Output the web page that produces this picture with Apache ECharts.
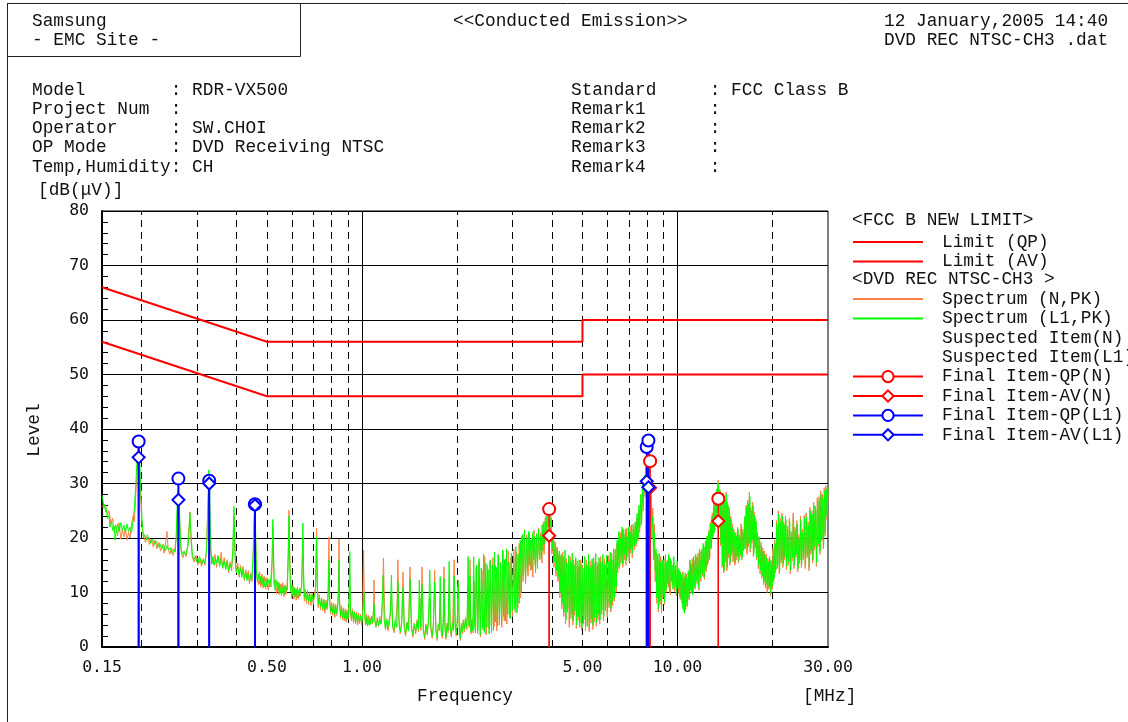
<!DOCTYPE html>
<html><head><meta charset="utf-8">
<script src="https://cdn.jsdelivr.net/npm/echarts@6.0.0/dist/echarts.min.js"></script>
<style>html,body{margin:0;padding:0;background:#fff}#c{width:1128px;height:722px}</style>
</head><body><div id="c"></div>
<script>
// ---------------- DATA ----------------
const limitQP = [[0.15,66],[0.5,56],[5,56],[5,60],[30,60]];
const limitAV = [[0.15,56],[0.5,46],[5,46],[5,50],[30,50]];

const finalQP_N  = [[3.92,25.3],[8.19,34.1],[13.47,27.2]];
const finalAV_N  = [[3.92,20.4],[8.19,29.2],[13.47,23.1]];
const finalQP_L1 = [[0.196,37.7],[0.262,30.9],[0.328,30.5],[0.458,26.2],[7.99,36.7],[8.09,37.9]];
const finalAV_L1 = [[0.196,34.8],[0.262,27.0],[0.328,30.0],[0.458,26.0],[7.99,30.4],[8.09,29.3]];

const gridDashed = [0.2,0.3,0.4,0.5,0.6,0.7,0.8,0.9,2,3,4,5,6,7,8,9,20];
const gridSolid = [1,10];
const xTickValues = [0.15,0.5,1,5,10,30];
const xTickLabels = ['0.15','0.50','1.00','5.00','10.00','30.00'];

const spectrumL1 = [
[0.150,27.8],[0.151,27.0],[0.152,25.6],[0.153,26.2],[0.154,24.8],[0.155,25.4],[0.156,23.5],[0.158,24.2],[0.159,22.0],[0.161,23.0],[0.162,21.4],[0.164,22.2],[0.165,19.6],[0.167,21.8],[0.168,22.6],[0.170,21.2],[0.172,22.8],[0.174,21.4],[0.176,22.4],[0.178,21.0],[0.180,22.6],[0.182,21.2],[0.184,22.0],[0.186,21.0],[0.188,23.0],[0.190,25.5],[0.192,30.0],[0.194,35.0],[0.196,38.0],[0.197,36.0],[0.199,29.0],[0.201,23.0],[0.203,20.0],[0.205,20.6],[0.208,19.6],[0.211,20.2],[0.214,19.0],[0.217,19.8],[0.220,18.8],[0.223,19.4],[0.226,18.4],[0.229,19.0],[0.232,18.0],[0.235,18.8],[0.238,17.6],[0.241,18.6],[0.244,17.8],[0.247,18.2],[0.250,17.2],[0.253,18.0],[0.256,17.4],[0.258,21.0],[0.260,27.0],[0.262,31.0],[0.263,28.5],[0.265,22.0],[0.267,18.0],[0.270,17.0],[0.273,17.6],[0.276,16.8],[0.279,17.8],[0.282,19.0],[0.284,23.0],[0.285,24.6],[0.287,21.0],[0.290,17.0],[0.293,16.0],[0.296,16.6],[0.299,15.6],[0.302,16.4],[0.305,15.4],[0.308,16.2],[0.311,15.2],[0.314,16.0],[0.317,15.4],[0.320,16.6],[0.322,18.0],[0.325,26.0],[0.327,32.5],[0.329,29.0],[0.331,20.0],[0.334,15.2],[0.337,16.6],[0.340,15.0],[0.343,16.4],[0.346,15.4],[0.350,16.8],[0.354,14.8],[0.358,16.2],[0.362,14.6],[0.366,15.8],[0.370,14.2],[0.374,15.6],[0.378,14.0],[0.382,15.2],[0.386,14.4],[0.390,18.0],[0.392,24.0],[0.393,25.8],[0.395,20.0],[0.397,15.0],[0.400,13.6],[0.404,14.8],[0.408,13.2],[0.412,14.6],[0.416,12.8],[0.420,14.2],[0.424,12.6],[0.428,13.8],[0.432,12.2],[0.436,13.4],[0.440,12.0],[0.444,13.2],[0.448,12.4],[0.452,17.0],[0.455,23.0],[0.458,27.0],[0.460,22.0],[0.463,14.0],[0.466,12.0],[0.470,13.4],[0.474,11.6],[0.478,13.0],[0.482,11.4],[0.486,12.8],[0.490,11.0],[0.495,12.6],[0.500,11.2],[0.505,12.4],[0.510,11.0],[0.515,12.8],[0.519,16.0],[0.521,21.5],[0.522,23.4],[0.524,18.0],[0.527,12.0],[0.531,10.4],[0.536,12.2],[0.541,10.2],[0.546,11.8],[0.551,9.8],[0.556,11.4],[0.561,10.0],[0.566,11.2],[0.571,9.6],[0.576,11.0],[0.580,10.4],[0.584,16.0],[0.587,24.0],[0.590,16.0],[0.594,10.2],[0.599,11.4],[0.604,9.4],[0.609,11.0],[0.614,9.2],[0.619,10.6],[0.624,9.0],[0.629,10.4],[0.634,9.2],[0.639,10.6],[0.644,11.0],[0.648,19.0],[0.650,22.7],[0.653,14.0],[0.657,9.0],[0.662,10.2],[0.667,8.6],[0.672,10.0],[0.677,8.4],[0.683,9.8],[0.689,8.2],[0.695,9.6],[0.701,8.4],[0.707,9.4],[0.713,10.0],[0.718,20.2],[0.722,11.0],[0.727,7.8],[0.733,9.2],[0.739,7.4],[0.745,8.8],[0.751,7.0],[0.757,8.6],[0.763,6.8],[0.769,8.2],[0.775,7.2],[0.781,9.0],[0.786,16.0],[0.790,8.0],[0.796,6.4],[0.802,7.8],[0.808,6.2],[0.814,7.6],[0.820,6.0],[0.826,7.4],[0.832,6.2],[0.838,7.6],[0.844,10.0],[0.846,16.0],[0.849,8.0],[0.855,5.8],[0.861,7.2],[0.867,5.4],[0.873,6.8],[0.879,5.2],[0.885,6.6],[0.891,5.0],[0.897,6.4],[0.903,5.4],[0.909,7.0],[0.915,17.5],[0.920,7.0],[0.926,5.2],[0.933,6.6],[0.940,4.8],[0.947,6.4],[0.954,4.6],[0.961,6.0],[0.968,4.4],[0.975,5.8],[0.982,4.6],[0.990,5.6],[0.998,4.4],[1.006,5.8],[1.015,10.0],[1.022,5.4],[1.030,4.2],[1.038,5.6],[1.046,4.0],[1.055,5.4],[1.064,4.2],[1.073,5.6],[1.082,4.4],[1.092,8.0],[1.100,4.6],[1.110,3.8],[1.120,5.2],[1.130,4.0],[1.140,5.0],[1.150,4.2],[1.160,8.0],[1.168,13.2],[1.176,5.0],[1.186,3.4],[1.196,5.0],[1.206,3.2],[1.218,4.8],[1.230,6.0],[1.240,13.2],
[1.250,4.0],[1.262,3.0],[1.275,5.0],[1.290,3.6],[1.300,12.0],[1.312,4.0],[1.325,2.8],[1.338,4.6],[1.350,11.0],[1.362,3.4],[1.375,2.4],[1.390,4.4],[1.405,3.0],[1.420,12.5],[1.435,3.6],[1.450,2.2],[1.465,4.2],[1.480,2.8],[1.495,4.6],[1.510,3.2],[1.520,12.3],[1.535,3.6],[1.550,11.5],[1.565,3.0],[1.580,1.8],[1.595,4.0],[1.610,2.6],[1.625,4.6],[1.640,14.1],[1.655,3.4],[1.670,2.0],[1.685,4.2],[1.700,12.0],[1.715,3.0],[1.730,1.6],[1.745,3.8],[1.760,4.6],[1.770,12.9],[1.782,3.0],[1.795,2.0],[1.808,4.4],[1.820,12.6],[1.833,3.2],[1.846,1.8],[1.860,4.0],[1.875,3.0],[1.890,15.7],[1.905,3.6],[1.920,2.2],[1.935,4.4],[1.950,3.0],[1.960,13.0],[1.975,3.6],[1.990,2.4],[2.005,4.6],[2.020,12.0],[2.035,3.2],[2.050,1.6],[2.065,4.0],[2.080,2.8],[2.095,4.6],[2.110,3.2],[2.125,5.0],[2.140,3.6],[2.155,5.4],[2.170,16.6],[2.185,4.0],[2.200,13.0],[2.215,2.8],[2.230,4.8],[2.245,3.0],[2.260,16.6],[2.275,4.2],[2.290,2.6],
[2.310,15.0],[2.330,3.0],[2.350,16.2],[2.370,2.2],[2.390,14.5],[2.410,3.4],[2.430,17.0],[2.450,2.6],[2.470,15.4],[2.490,3.6],[2.510,14.2],[2.530,2.4],[2.550,16.0],[2.570,4.0],[2.590,15.0],[2.610,3.0],[2.630,17.4],[2.650,4.6],[2.670,14.6],[2.690,3.8],[2.710,16.8],[2.730,5.0],[2.750,15.4],[2.770,4.2],[2.790,17.8],[2.810,5.6],[2.830,16.0],[2.850,4.8],[2.875,18.0],[2.900,6.0],[2.925,15.6],[2.950,5.2],[2.975,17.2],[3.000,6.6],[3.025,16.4],[3.050,7.0],[3.075,18.4],[3.100,6.2],[3.125,17.0],[3.150,8.0],[3.175,19.6],[3.200,10.0],[3.225,20.6],[3.250,13.0],[3.275,21.5],[3.300,12.4],[3.325,20.0],[3.350,14.0],[3.375,21.2],[3.400,15.0],[3.425,19.6],[3.450,14.2],[3.475,21.0],[3.500,16.0],[3.525,20.2],[3.550,13.6],[3.575,20.8],[3.600,15.4],[3.625,21.6],[3.650,17.0],[3.675,20.4],[3.700,16.2],[3.725,22.4],[3.750,17.6],[3.775,23.0],[3.800,19.0],[3.830,24.0],[3.860,21.0],[3.890,24.5],[3.920,25.6],[3.950,22.0],[3.980,23.6],[4.010,18.0],[4.040,20.6],[4.070,15.6],[4.100,19.0],[4.130,14.0],[4.160,18.0],[4.190,12.8],[4.220,17.6],[4.250,10.0],[4.280,17.0],[4.310,8.0],[4.340,16.6],[4.370,6.4],[4.400,17.8],[4.430,5.0],[4.460,15.4],[4.490,7.2],[4.520,16.8],[4.550,4.4],[4.580,15.8],[4.610,6.0],[4.640,17.2],[4.670,4.8],[4.700,15.0],[4.730,6.6],[4.760,16.4],[4.790,4.0],[4.820,14.8],[4.850,5.6],[4.880,16.0],[4.910,4.4],[4.945,15.2],[4.980,3.6],[5.015,14.4],[5.050,5.0],[5.085,16.6],[5.120,3.8],[5.155,15.0],[5.190,4.6],[5.225,17.0],[5.260,3.6],[5.295,14.6],[5.330,5.2],[5.365,16.2],[5.400,4.0],[5.435,15.4],[5.470,5.4],[5.505,17.2],[5.540,4.4],[5.575,14.8],[5.610,6.0],[5.645,16.4],[5.680,5.0],[5.720,15.6],[5.760,6.8],[5.800,17.0],[5.840,5.6],[5.880,15.2],[5.920,7.4],[5.960,16.8],[6.000,6.2],[6.040,15.6],[6.080,8.0],[6.120,17.4],[6.160,7.0],[6.200,16.0],[6.240,8.4],[6.280,18.0],[6.320,9.0],[6.360,17.0],[6.400,11.0],[6.440,19.6],[6.480,14.6],[6.520,21.2],[6.560,15.0],[6.600,20.0],[6.640,16.6],[6.680,22.0],[6.720,15.2],[6.760,20.6],[6.800,17.0],[6.840,21.6],[6.880,15.8],[6.920,20.2],[6.960,17.6],[7.000,22.0],[7.040,16.4],[7.080,21.0],[7.120,18.0],[7.160,22.4],[7.200,17.2],[7.250,21.6],[7.300,18.6],[7.350,23.0],[7.400,19.0],[7.450,24.5],[7.500,20.0],[7.550,26.0],[7.600,22.0],[7.650,28.0],[7.700,23.0],[7.750,30.0],[7.800,26.0],[7.850,31.5],[7.900,29.0],[7.950,33.0],[7.990,36.5],[8.040,32.0],[8.090,38.2],[8.150,33.0],[8.200,29.0],
[8.250,27.5],[8.300,20.0],[8.350,24.0],[8.400,17.0],[8.450,21.0],[8.500,14.0],[8.550,18.0],[8.600,9.0],[8.650,16.5],[8.700,7.0],[8.750,17.2],[8.800,8.4],[8.850,15.6],[8.900,6.8],[8.950,16.0],[9.000,9.6],[9.050,15.2],[9.100,8.2],[9.150,16.4],[9.200,10.4],[9.260,15.6],[9.320,11.6],[9.380,17.0],[9.440,10.0],[9.500,16.2],[9.560,12.0],[9.620,15.0],[9.680,10.6],[9.740,16.6],[9.800,11.0],[9.860,14.6],[9.920,9.8],[9.980,15.8],[10.04,10.8],[10.10,14.4],[10.16,9.4],[10.22,13.8],[10.28,8.6],[10.34,13.4],[10.40,7.0],[10.46,12.6],[10.52,6.2],[10.58,13.6],[10.64,7.6],[10.70,12.8],[10.76,8.0],[10.82,14.0],[10.88,9.0],[10.95,16.0],[11.02,10.4],[11.10,15.2],[11.18,9.6],[11.26,16.6],[11.34,11.0],[11.42,17.0],[11.50,12.2],[11.58,16.4],[11.66,10.8],[11.74,18.0],[11.82,12.6],[11.90,17.4],[11.98,13.4],[12.06,19.0],[12.14,12.8],[12.22,18.4],[12.30,14.2],[12.38,20.2],[12.46,15.0],[12.54,21.0],[12.62,16.0],[12.70,22.6],[12.78,18.0],[12.86,24.0],[12.94,20.0],[13.02,26.0],[13.10,21.0],[13.18,27.6],[13.26,23.0],[13.34,29.0],[13.42,24.6],[13.50,30.0],[13.58,22.0],[13.66,28.6],[13.74,19.0],[13.82,27.0],[13.90,15.0],[13.98,28.2],[14.06,14.0],[14.14,27.0],[14.22,16.2],[14.30,28.0],[14.38,14.6],[14.46,26.0],[14.54,17.0],[14.62,25.0],[14.70,15.6],[14.78,23.6],[14.86,17.4],[14.96,22.0],[15.06,16.0],[15.16,21.0],[15.26,15.4],[15.36,20.4],[15.46,16.6],[15.56,21.6],[15.66,15.8],[15.76,20.0],[15.86,17.0],[15.96,22.2],[16.06,16.4],[16.16,21.0],[16.26,18.0],[16.36,24.0],[16.46,18.6],[16.56,25.6],[16.66,17.6],[16.76,26.4],[16.86,19.0],[16.96,27.6],[17.06,18.0],[17.16,25.0],[17.26,19.6],[17.36,26.0],[17.46,17.0],[17.56,24.2],[17.66,18.4],[17.76,23.0],[17.86,16.4],[17.98,20.4],[18.10,15.0],[18.22,19.6],[18.34,14.0],[18.46,18.6],[18.58,13.0],[18.70,17.6],[18.82,12.0],[18.94,17.0],[19.06,11.4],[19.18,16.4],[19.30,10.6],[19.42,15.6],[19.54,11.0],[19.66,16.0],[19.78,9.8],[19.90,15.2],[20.02,11.2],[20.14,17.6],[20.26,12.6],[20.38,19.0],[20.52,14.2],[20.66,22.6],[20.80,15.0],[20.94,24.4],[21.08,14.0],[21.22,23.0],[21.36,16.0],[21.50,24.0],[21.64,15.2],[21.78,22.4],[21.92,16.6],[22.06,23.4],[22.20,14.8],[22.36,21.6],[22.52,15.6],[22.68,23.0],[22.84,14.0],[23.00,20.6],[23.16,16.4],[23.32,24.0],[23.48,15.0],[23.64,21.4],[23.80,17.0],[23.96,22.6],[24.12,14.4],[24.28,20.0],[24.44,16.0],[24.60,23.4],[24.76,15.2],[24.92,21.0],[25.10,16.6],[25.28,23.6],[25.46,15.0],[25.64,24.0],[25.82,17.0],[26.00,22.4],[26.18,14.6],[26.36,25.0],[26.54,17.6],[26.72,24.4],[26.90,16.0],[27.08,26.0],[27.26,18.4],[27.44,25.2],[27.62,15.4],[27.80,26.8],[27.98,19.0],[28.16,27.0],[28.34,17.6],[28.52,28.0],[28.70,20.0],[28.88,27.4],[29.06,18.6],[29.24,28.6],[29.42,21.0],[29.60,29.0],[29.80,24.0],[30.00,29.4]
];

const spectrumN = [
[0.150,26.0],[0.152,25.4],[0.154,26.0],[0.156,24.2],[0.158,25.0],[0.160,22.6],[0.162,23.6],[0.164,21.0],[0.166,22.4],[0.168,20.4],[0.170,22.8],[0.172,19.8],[0.174,21.6],[0.176,20.2],[0.178,21.8],[0.180,19.6],[0.182,21.0],[0.184,20.0],[0.186,22.4],[0.188,24.0],[0.190,23.0],[0.192,28.0],[0.194,33.0],[0.196,36.0],[0.197,33.5],[0.199,27.0],[0.201,22.0],[0.203,20.4],[0.206,19.2],[0.209,20.6],[0.212,18.8],[0.215,19.8],[0.218,18.4],[0.221,19.6],[0.224,18.0],[0.227,19.2],[0.230,17.6],[0.233,18.8],[0.236,17.2],[0.239,19.4],[0.241,21.2],[0.243,18.0],[0.246,17.0],[0.249,18.2],[0.252,16.8],[0.255,17.8],[0.258,20.0],[0.260,25.0],[0.262,27.5],[0.264,24.0],[0.266,19.0],[0.268,17.0],[0.271,16.4],[0.274,17.6],[0.277,16.6],[0.280,18.4],[0.283,22.0],[0.285,24.8],[0.287,20.0],[0.290,16.4],[0.294,15.6],[0.298,16.8],[0.302,15.0],[0.306,16.6],[0.310,14.8],[0.314,16.2],[0.318,15.0],[0.321,17.0],[0.324,24.0],[0.327,30.0],[0.329,25.0],[0.331,18.0],[0.334,16.2],[0.338,15.2],[0.342,17.0],[0.346,14.6],[0.350,16.6],[0.354,15.2],[0.358,17.4],[0.362,14.4],[0.366,16.4],[0.370,14.6],[0.374,16.0],[0.378,13.6],[0.382,15.6],[0.386,14.0],[0.390,17.0],[0.393,24.0],[0.396,17.0],[0.400,14.0],[0.404,15.4],[0.408,12.8],[0.412,15.0],[0.416,13.2],[0.420,14.8],[0.424,12.2],[0.428,14.2],[0.432,12.6],[0.436,14.0],[0.440,11.6],[0.444,13.6],[0.448,12.0],[0.452,16.0],[0.455,23.0],[0.458,26.5],[0.460,21.0],[0.463,13.0],[0.466,12.6],[0.470,11.4],[0.474,13.8],[0.478,11.0],[0.482,13.4],[0.486,10.8],[0.490,13.0],[0.495,10.6],[0.500,12.8],[0.505,10.4],[0.510,12.2],[0.515,11.0],[0.519,15.0],[0.522,22.0],[0.524,17.0],[0.527,11.4],[0.531,12.4],[0.536,9.8],[0.541,12.0],[0.546,9.6],[0.551,11.6],[0.556,9.4],[0.561,11.8],[0.566,9.2],[0.571,11.4],[0.576,9.8],[0.580,12.0],[0.584,18.0],[0.587,25.1],[0.590,18.0],[0.594,11.0],[0.599,9.0],[0.604,11.4],[0.609,8.8],[0.614,10.8],[0.619,8.6],[0.624,11.0],[0.629,8.8],[0.634,10.8],[0.639,9.4],[0.644,11.6],[0.648,17.0],[0.650,20.0],[0.653,12.0],[0.657,8.4],[0.662,10.6],[0.667,8.0],[0.672,10.4],[0.677,7.8],[0.683,10.0],[0.689,7.6],[0.695,9.8],[0.701,7.8],[0.707,9.8],[0.713,11.0],[0.718,21.8],[0.722,12.0],[0.727,7.2],[0.733,9.6],[0.739,6.8],[0.745,9.0],[0.751,6.6],[0.757,8.8],[0.763,6.2],[0.769,8.6],[0.775,6.8],[0.781,10.0],[0.786,20.2],[0.790,9.0],[0.796,6.0],[0.802,8.2],[0.808,5.8],[0.814,8.0],[0.820,5.4],[0.826,7.8],[0.832,5.8],[0.838,8.0],[0.843,12.0],[0.846,19.8],[0.849,9.0],[0.855,5.4],[0.861,7.6],[0.867,5.0],[0.873,7.2],[0.879,4.8],[0.885,7.0],[0.891,4.6],[0.897,6.8],[0.903,5.0],[0.909,7.2],[0.915,11.0],[0.920,6.4],[0.926,4.8],[0.933,7.0],[0.940,4.4],[0.947,6.6],[0.954,4.2],[0.961,6.4],[0.968,4.0],[0.975,6.2],[0.982,4.2],[0.990,6.0],[0.998,4.0],[1.006,7.0],[1.012,17.8],[1.018,8.0],[1.025,4.0],[1.033,6.0],[1.041,3.8],[1.050,5.8],[1.060,4.0],[1.070,5.6],[1.080,4.2],[1.088,7.0],[1.092,12.3],[1.098,5.0],[1.108,3.6],[1.118,5.4],[1.128,3.8],[1.140,5.6],[1.152,4.4],[1.162,9.0],[1.170,16.3],[1.178,8.0],[1.188,3.2],[1.200,5.2],[1.212,3.0],[1.225,4.8],[1.240,10.0],[1.252,3.6],[1.265,2.6],[1.280,4.8],[1.292,8.0],[1.300,16.0],[1.310,5.0],[1.322,2.4],[1.335,4.6],[1.350,13.8],[1.362,4.0],[1.375,2.0],[1.390,4.6],[1.405,3.0],[1.420,14.7],[1.435,4.0],[1.450,1.8],[1.465,4.4],[1.480,2.4],[1.495,5.0],[1.510,2.8],[1.525,9.0],[1.537,3.0],[1.550,14.7],[1.565,3.4],[1.580,1.4],[1.595,4.2],[1.610,2.2],[1.625,5.0],[1.640,9.0],[1.655,3.0],[1.670,1.6],[1.685,4.6],[1.700,14.1],[1.715,3.4],[1.730,1.2],[1.745,4.2],[1.760,3.0],[1.772,9.0],[1.785,2.6],[1.800,1.6],[1.812,4.8],[1.820,14.7],[1.833,3.6],[1.846,1.4],[1.860,4.4],[1.875,2.6],[1.890,10.0],[1.905,3.2],[1.920,1.8],[1.940,4.8],[1.960,16.0],[1.975,4.0],[1.990,2.0],[2.005,5.0],[2.020,12.3],[2.035,3.6],[2.050,1.2],[2.065,4.4],[2.080,2.4],[2.095,5.0],[2.110,2.8],[2.130,5.4],[2.150,3.2],[2.170,11.0],[2.185,3.6],[2.200,16.0],[2.215,2.4],[2.235,5.2],[2.250,2.6],[2.265,12.0],[2.280,3.8],
[2.300,14.6],[2.325,2.4],[2.350,15.6],[2.375,1.8],[2.400,14.0],[2.425,3.0],[2.450,16.6],[2.475,2.2],[2.500,15.0],[2.525,3.4],[2.550,15.8],[2.575,2.6],[2.600,16.4],[2.625,3.8],[2.650,15.0],[2.675,3.0],[2.700,17.0],[2.725,4.0],[2.750,15.6],[2.775,3.6],[2.800,17.6],[2.825,4.8],[2.850,16.2],[2.880,4.2],[2.910,17.6],[2.940,5.4],[2.970,16.4],[3.000,5.6],[3.030,18.0],[3.060,6.4],[3.090,17.4],[3.120,7.2],[3.150,19.0],[3.180,9.0],[3.210,20.4],[3.240,12.0],[3.270,21.0],[3.300,11.6],[3.330,20.6],[3.360,13.0],[3.390,21.0],[3.420,14.0],[3.450,20.0],[3.480,12.8],[3.510,21.4],[3.540,15.0],[3.570,20.4],[3.600,14.4],[3.630,21.8],[3.660,16.0],[3.690,21.0],[3.720,15.4],[3.750,22.6],[3.780,17.0],[3.810,23.6],[3.840,19.6],[3.870,25.0],[3.900,22.0],[3.920,26.5],[3.945,21.0],[3.970,24.0],[4.000,17.0],[4.030,20.0],[4.060,14.6],[4.090,19.4],[4.120,13.0],[4.150,18.4],[4.180,12.0],[4.210,17.0],[4.240,9.0],[4.270,16.6],[4.300,7.0],[4.330,17.4],[4.360,5.6],[4.390,16.0],[4.420,4.2],[4.450,16.2],[4.480,6.4],[4.510,15.4],[4.540,3.6],[4.570,16.6],[4.600,5.2],[4.630,15.6],[4.660,4.0],[4.690,16.0],[4.720,5.8],[4.750,15.2],[4.780,3.4],[4.810,15.8],[4.840,4.8],[4.870,14.8],[4.900,3.6],[4.935,16.0],[4.970,3.0],[5.005,15.0],[5.040,4.2],[5.075,15.6],[5.110,3.0],[5.145,16.0],[5.180,3.8],[5.215,15.4],[5.250,2.8],[5.285,15.8],[5.320,4.4],[5.355,15.0],[5.390,3.2],[5.425,16.4],[5.460,4.6],[5.495,15.8],[5.530,3.8],[5.565,15.6],[5.600,5.0],[5.635,15.2],[5.670,4.2],[5.710,16.6],[5.750,6.0],[5.790,15.8],[5.830,4.8],[5.870,16.2],[5.910,6.6],[5.950,15.6],[5.990,5.4],[6.030,16.8],[6.070,7.2],[6.110,16.0],[6.150,6.4],[6.190,17.2],[6.230,7.6],[6.270,16.8],[6.310,8.4],[6.350,18.0],[6.390,10.0],[6.430,19.0],[6.470,13.6],[6.510,20.6],[6.550,14.4],[6.590,21.0],[6.630,15.4],[6.670,21.4],[6.710,14.6],[6.750,21.6],[6.790,16.0],[6.830,20.8],[6.870,15.0],[6.910,21.8],[6.950,16.6],[6.990,21.0],[7.030,15.6],[7.070,22.2],[7.110,17.2],[7.150,21.4],[7.190,16.4],[7.240,22.6],[7.290,17.8],[7.340,22.2],[7.390,18.4],[7.440,23.6],[7.490,19.4],[7.540,25.0],[7.590,21.0],[7.640,27.0],[7.690,22.4],[7.740,29.0],[7.790,25.0],[7.840,30.6],[7.890,27.6],[7.940,33.0],[7.990,30.0],[8.040,31.6],[8.100,34.0],[8.150,36.5],[8.200,33.0],[8.250,29.0],[8.300,22.0],[8.350,25.5],[8.400,16.0],[8.450,22.6],[8.500,12.0],[8.550,17.4],[8.600,8.0],[8.650,17.0],[8.700,6.4],[8.750,16.0],[8.800,7.8],[8.850,16.6],[8.900,6.2],[8.950,15.4],[9.000,9.0],[9.050,16.0],[9.100,7.8],[9.160,17.0],[9.220,10.0],[9.290,16.0],[9.360,11.0],[9.430,16.6],[9.500,9.6],[9.570,15.8],[9.640,11.4],[9.710,15.4],[9.780,10.2],[9.850,15.0],[9.920,9.4],[9.990,15.4],[10.06,10.0],[10.13,14.0],[10.20,8.8],[10.27,13.0],[10.34,8.0],[10.41,13.8],[10.48,6.6],[10.55,13.0],[10.62,6.8],[10.69,13.4],[10.76,7.4],[10.83,13.6],[10.90,8.6],[10.98,15.6],[11.06,9.8],[11.14,16.2],[11.22,10.0],[11.30,15.8],[11.38,10.6],[11.46,16.6],[11.54,11.6],[11.62,17.2],[11.70,10.4],[11.78,17.6],[11.86,12.0],[11.94,18.0],[12.02,13.0],[12.10,18.6],[12.18,12.4],[12.26,19.4],[12.34,13.8],[12.42,20.4],[12.50,15.4],[12.58,21.4],[12.66,16.4],[12.74,23.0],[12.82,18.4],[12.90,24.6],[12.98,20.4],[13.06,26.4],[13.14,21.6],[13.22,27.8],[13.30,22.4],[13.38,29.0],[13.46,30.6],[13.54,23.0],[13.62,29.0],[13.70,18.6],[13.78,27.4],[13.86,14.6],[13.94,28.0],[14.02,13.6],[14.10,27.6],[14.18,15.6],[14.26,28.4],[14.34,14.0],[14.42,26.6],[14.50,16.4],[14.58,25.6],[14.66,15.0],[14.74,24.0],[14.82,16.8],[14.90,22.6],[15.00,15.6],[15.10,21.6],[15.20,15.0],[15.30,21.0],[15.40,16.0],[15.50,22.0],[15.60,15.4],[15.70,20.6],[15.80,16.6],[15.90,22.6],[16.00,16.0],[16.10,21.6],[16.20,17.6],[16.30,23.6],[16.40,18.0],[16.50,26.0],[16.60,17.0],[16.70,27.0],[16.80,18.4],[16.90,28.4],[17.00,17.4],[17.10,25.6],[17.20,19.0],[17.30,26.6],[17.40,16.6],[17.50,24.8],[17.60,18.0],[17.70,23.6],[17.80,16.0],[17.92,21.0],[18.04,14.4],[18.16,20.2],[18.28,13.4],[18.40,19.2],[18.52,12.6],[18.64,18.2],[18.76,11.4],[18.88,17.6],[19.00,10.8],[19.12,17.0],[19.24,10.0],[19.36,16.2],[19.48,10.6],[19.60,16.6],[19.72,9.4],[19.84,15.8],[19.96,10.6],[20.08,18.2],[20.20,12.0],[20.32,19.6],[20.46,13.6],[20.60,23.2],[20.74,14.4],[20.88,25.0],[21.02,13.4],[21.16,23.6],[21.30,15.4],[21.44,24.6],[21.58,14.6],[21.72,23.0],[21.86,16.0],[22.00,24.0],[22.14,14.2],[22.30,22.2],[22.46,15.0],[22.62,23.6],[22.78,13.4],[22.94,21.2],[23.10,15.8],[23.26,24.6],[23.42,14.4],[23.58,22.0],[23.74,16.4],[23.90,23.2],[24.06,13.8],[24.22,20.6],[24.38,15.4],[24.54,24.0],[24.70,14.6],[24.86,21.6],[25.04,16.0],[25.22,24.2],[25.40,14.4],[25.58,24.6],[25.76,16.4],[25.94,23.0],[26.12,14.0],[26.30,25.6],[26.48,17.0],[26.66,25.0],[26.84,15.4],[27.02,26.6],[27.20,17.8],[27.38,25.8],[27.56,14.8],[27.74,27.4],[27.92,18.4],[28.10,27.6],[28.28,17.0],[28.46,28.6],[28.64,19.4],[28.82,28.0],[29.00,18.0],[29.18,29.2],[29.36,20.4],[29.54,29.6],[29.74,23.4],[30.00,28.4]
];

// ---------------- CHART ----------------
const MONO = '"Liberation Mono", "Courier New", monospace';
const FS = 17.8;
const INK = '#111';
const RED = '#ff0000', BLUE = '#0000ff', GREEN = '#00ff00', ORANGE = '#ff8040';

function stems(items) {
  const out = [];
  items.forEach(([f, v]) => {
    out.push({ value: [f, 0], symbol: 'none' });
    out.push({ value: [f, v] });
    out.push({ value: [f, '-'], symbol: 'none' });
  });
  return out;
}

function gridRender(dashed) {
  return function (params, api) {
    const f = api.value(0);
    const p0 = api.coord([f, 0]);
    const p1 = api.coord([f, 80]);
    const x = Math.round(p0[0]) + 0.5;
    return {
      type: 'group', children: [
        { type: 'line', shape: { x1: x, y1: p0[1], x2: x, y2: p1[1] },
          style: { stroke: '#000', lineWidth: 1, lineDash: dashed ? [7, 5] : null } },
        { type: 'line', shape: { x1: x, y1: p0[1], x2: x, y2: p0[1] - 6 },
          style: { stroke: '#000', lineWidth: 1 } }
      ]
    };
  };
}

function txt(text, x, y, extra) {
  return Object.assign({ type: 'text', x: x, y: y, silent: true,
    style: Object.assign({ text: text, font: FS + 'px ' + MONO, fill: INK, verticalAlign: 'middle' }, extra || {}) });
}

const infoLeft = ['Model        : RDR-VX500', 'Project Num  :', 'Operator     : SW.CHOI', 'OP Mode      : DVD Receiving NTSC', 'Temp,Humidity: CH'];
const infoRight = ['Standard     : FCC Class B', 'Remark1      :', 'Remark2      :', 'Remark3      :', 'Remark4      :'];

const graphics = [
  { type: 'line', shape: { x1: 7.5, y1: 3.5, x2: 1128, y2: 3.5 }, style: { stroke: '#222', lineWidth: 1 } },
  { type: 'line', shape: { x1: 7.5, y1: 3.5, x2: 7.5, y2: 722 }, style: { stroke: '#222', lineWidth: 1 } },
  { type: 'rect', shape: { x: 7.5, y: 3.5, width: 293, height: 53 }, style: { fill: 'none', stroke: '#222', lineWidth: 1 } },
  txt('Samsung', 32, 21), txt('- EMC Site -', 32, 40),
  txt('<<Conducted Emission>>', 453, 21),
  txt('12 January,2005 14:40', 884, 21), txt('DVD REC NTSC-CH3 .dat', 884, 40),
  txt('[dB(\u03bcV)]', 38, 190),
  txt('Frequency', 465, 696, { align: 'center' }),
  txt('[MHz]', 803, 696),
  Object.assign(txt('Level', 34, 430, { align: 'center' }), { rotation: Math.PI / 2 }),
  txt('<FCC B NEW LIMIT>', 852, 220),
  txt('<DVD REC NTSC-CH3 >', 852, 279)
];
infoLeft.forEach((s, i) => graphics.push(txt(s, 32, 90 + i * 19.25)));
infoRight.forEach((s, i) => graphics.push(txt(s, 571, 90 + i * 19.25)));

const legendText = { fontFamily: MONO, fontSize: FS, color: INK, lineHeight: 18, padding: [0, 0, 0, 14] };
const hideSym = { itemStyle: { opacity: 0 } };

const chart = echarts.init(document.getElementById('c'), null, { renderer: 'canvas' });
chart.setOption({
  animation: false,
  backgroundColor: '#fff',
  graphic: graphics,
  grid: { left: 102, right: 300, top: 211, bottom: 75, show: true, borderColor: '#000', borderWidth: 1 },
  legend: [
    { orient: 'vertical', left: 852, top: 233, itemWidth: 70, itemHeight: 14, itemGap: 1.4, padding: 0,
      selectedMode: false, textStyle: legendText,
      data: [Object.assign({ name: 'Limit (QP)' }, hideSym), Object.assign({ name: 'Limit (AV)' }, hideSym)] },
    { orient: 'vertical', left: 852, top: 290, itemWidth: 70, itemHeight: 14, itemGap: 1.4, padding: 0,
      selectedMode: false, textStyle: legendText,
      data: [Object.assign({ name: 'Spectrum (N,PK)' }, hideSym), Object.assign({ name: 'Spectrum (L1,PK)' }, hideSym),
        Object.assign({ name: 'Suspected Item(N)' }, hideSym), Object.assign({ name: 'Suspected Item(L1)' }, hideSym),
        'Final Item-QP(N)', 'Final Item-AV(N)', 'Final Item-QP(L1)', 'Final Item-AV(L1)'] }
  ],
  xAxis: {
    type: 'log', logBase: 10, min: 0.15, max: 30,
    axisLine: { show: true, onZero: false, lineStyle: { color: '#000', width: 2 } },
    axisTick: { show: false }, axisLabel: { show: false }, splitLine: { show: false }, minorTick: { show: false }
  },
  yAxis: {
    type: 'value', min: 0, max: 80, interval: 10,
    axisLine: { show: true, lineStyle: { color: '#000', width: 2 } },
    axisTick: { show: true, inside: true, length: 6, lineStyle: { color: '#000' } },
    minorTick: { show: true, splitNumber: 5, length: 6, lineStyle: { color: '#000', width: 1 } },
    axisLabel: { color: INK, fontFamily: '"DejaVu Sans Mono", monospace', fontSize: 16.5, margin: 13 },
    splitLine: { show: true, lineStyle: { color: '#000', width: 1 } }
  },
  series: [
    { type: 'custom', name: 'gridDashed', silent: true, clip: false, renderItem: gridRender(true),
      data: gridDashed.map(f => [f, 0]), z: 1 },
    { type: 'custom', name: 'gridSolid', silent: true, clip: false, renderItem: gridRender(false),
      data: gridSolid.map(f => [f, 0]), z: 1 },
    { type: 'custom', name: 'xLabels', silent: true, clip: false, z: 1,
      data: xTickValues.map(f => [f, 0]),
      renderItem: function (params, api) {
        const p = api.coord([api.value(0), 0]);
        return { type: 'text', x: p[0], y: p[1] + 21,
          style: { text: xTickLabels[params.dataIndex], font: '16.5px "DejaVu Sans Mono", monospace', fill: INK, align: 'center', verticalAlign: 'middle' } };
      } },
    { type: 'line', name: 'Spectrum (N,PK)', data: spectrumN, symbol: 'none', z: 2,
      color: ORANGE, lineStyle: { color: ORANGE, width: 1 } },
    { type: 'line', name: 'Spectrum (L1,PK)', data: spectrumL1, symbol: 'none', z: 3,
      color: GREEN, lineStyle: { color: GREEN, width: 1 } },
    { type: 'line', name: 'Suspected Item(N)', data: [], symbol: 'none', color: 'rgba(0,0,0,0)', lineStyle: { color: 'rgba(0,0,0,0)' } },
    { type: 'line', name: 'Suspected Item(L1)', data: [], symbol: 'none', color: 'rgba(0,0,0,0)', lineStyle: { color: 'rgba(0,0,0,0)' } },
    { type: 'line', name: 'Limit (QP)', data: limitQP, symbol: 'none', z: 4, color: RED, lineStyle: { color: RED, width: 2 } },
    { type: 'line', name: 'Limit (AV)', data: limitAV, symbol: 'none', z: 4, color: RED, lineStyle: { color: RED, width: 2 } },
    { type: 'line', name: 'Final Item-QP(N)', data: stems(finalQP_N), symbol: 'emptyCircle', symbolSize: 12, z: 5,
      color: RED, itemStyle: { color: RED, borderWidth: 1 }, lineStyle: { color: RED, width: 1.2 } },
    { type: 'line', name: 'Final Item-AV(N)', data: stems(finalAV_N), symbol: 'emptyDiamond', symbolSize: 12, z: 5,
      color: RED, itemStyle: { color: RED, borderWidth: 1 }, lineStyle: { color: RED, width: 1.2 } },
    { type: 'line', name: 'Final Item-QP(L1)', data: stems(finalQP_L1), symbol: 'emptyCircle', symbolSize: 12, z: 5,
      color: BLUE, itemStyle: { color: BLUE, borderWidth: 1 }, lineStyle: { color: BLUE, width: 1.8 } },
    { type: 'line', name: 'Final Item-AV(L1)', data: stems(finalAV_L1), symbol: 'emptyDiamond', symbolSize: 12, z: 5,
      color: BLUE, itemStyle: { color: BLUE, borderWidth: 1 }, lineStyle: { color: BLUE, width: 1.8 } }
  ]
});
</script>
</body></html>
